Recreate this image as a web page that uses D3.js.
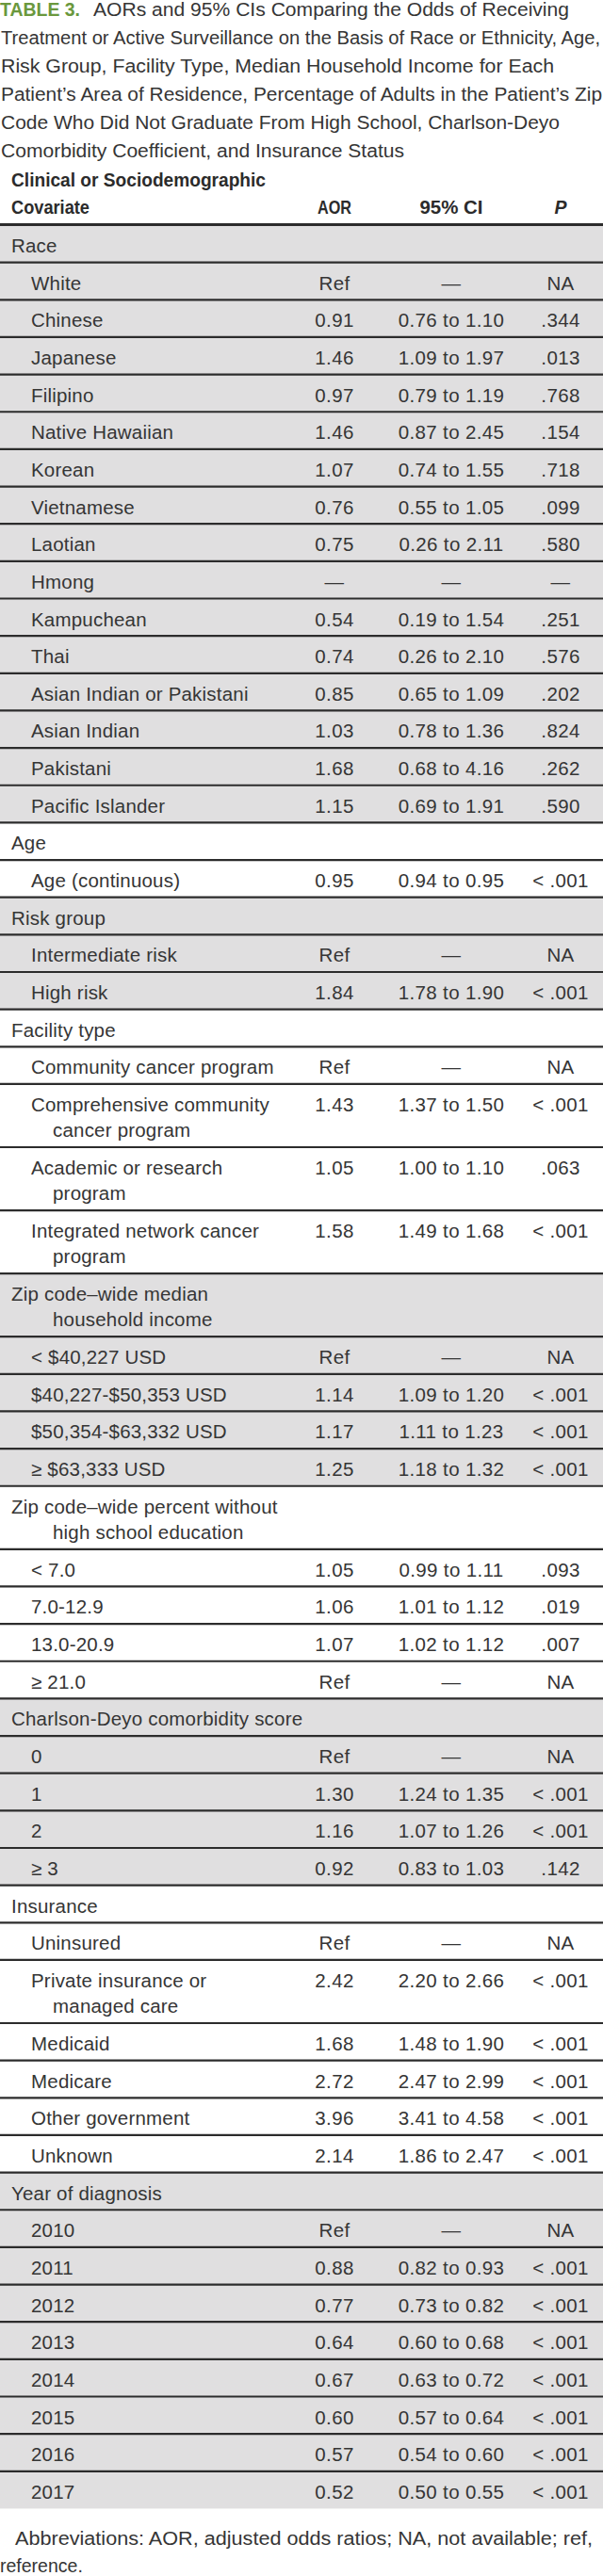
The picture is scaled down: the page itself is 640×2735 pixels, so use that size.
<!DOCTYPE html>
<html><head><meta charset="utf-8">
<script src="https://cdn.jsdelivr.net/npm/d3@7"></script>
<style>html,body{margin:0;padding:0;background:#fff;} svg{display:block;}</style>
</head><body><div id="chart"></div>
<script>
// ---------- DATA ----------
const titleLabel = "TABLE 3.";
const titleLines = [
  "AORs and 95% CIs Comparing the Odds of Receiving",
  "Treatment or Active Surveillance on the Basis of Race or Ethnicity, Age,",
  "Risk Group, Facility Type, Median Household Income for Each",
  "Patient\u2019s Area of Residence, Percentage of Adults in the Patient\u2019s Zip",
  "Code Who Did Not Graduate From High School, Charlson-Deyo",
  "Comorbidity Coefficient, and Insurance Status"
];
const headerCovariate = ["Clinical or Sociodemographic", "Covariate"];
const headerColumns = ["AOR", "95% CI", "P"];
const groupLabels = [
  "Race",
  "Age",
  "Risk group",
  "Facility type",
  "Zip code\u2013wide median\nhousehold income",
  "Zip code\u2013wide percent without\nhigh school education",
  "Charlson-Deyo comorbidity score",
  "Insurance",
  "Year of diagnosis"
];
const covariates = [
  "White","Chinese","Japanese","Filipino","Native Hawaiian","Korean","Vietnamese","Laotian","Hmong",
  "Kampuchean","Thai","Asian Indian or Pakistani","Asian Indian","Pakistani","Pacific Islander",
  "Age (continuous)",
  "Intermediate risk","High risk",
  "Community cancer program","Comprehensive community\ncancer program","Academic or research\nprogram","Integrated network cancer\nprogram",
  "< $40,227 USD","$40,227-$50,353 USD","$50,354-$63,332 USD","\u2265 $63,333 USD",
  "< 7.0","7.0-12.9","13.0-20.9","\u2265 21.0",
  "0","1","2","\u2265 3",
  "Uninsured","Private insurance or\nmanaged care","Medicaid","Medicare","Other government","Unknown",
  "2010","2011","2012","2013","2014","2015","2016","2017"
];
const covariateGroup = [
  0,0,0,0,0,0,0,0,0,0,0,0,0,0,0,
  1,
  2,2,
  3,3,3,3,
  4,4,4,4,
  5,5,5,5,
  6,6,6,6,
  7,7,7,7,7,7,
  8,8,8,8,8,8,8,8
];
const aorValues = [
  "Ref","0.91","1.46","0.97","1.46","1.07","0.76","0.75","\u2014","0.54","0.74","0.85","1.03","1.68","1.15",
  "0.95",
  "Ref","1.84",
  "Ref","1.43","1.05","1.58",
  "Ref","1.14","1.17","1.25",
  "1.05","1.06","1.07","Ref",
  "Ref","1.30","1.16","0.92",
  "Ref","2.42","1.68","2.72","3.96","2.14",
  "Ref","0.88","0.77","0.64","0.67","0.60","0.57","0.52"
];
const ciValues = [
  "\u2014","0.76 to 1.10","1.09 to 1.97","0.79 to 1.19","0.87 to 2.45","0.74 to 1.55","0.55 to 1.05","0.26 to 2.11","\u2014",
  "0.19 to 1.54","0.26 to 2.10","0.65 to 1.09","0.78 to 1.36","0.68 to 4.16","0.69 to 1.91",
  "0.94 to 0.95",
  "\u2014","1.78 to 1.90",
  "\u2014","1.37 to 1.50","1.00 to 1.10","1.49 to 1.68",
  "\u2014","1.09 to 1.20","1.11 to 1.23","1.18 to 1.32",
  "0.99 to 1.11","1.01 to 1.12","1.02 to 1.12","\u2014",
  "\u2014","1.24 to 1.35","1.07 to 1.26","0.83 to 1.03",
  "\u2014","2.20 to 2.66","1.48 to 1.90","2.47 to 2.99","3.41 to 4.58","1.86 to 2.47",
  "\u2014","0.82 to 0.93","0.73 to 0.82","0.60 to 0.68","0.63 to 0.72","0.57 to 0.64","0.54 to 0.60","0.50 to 0.55"
];
const pValues = [
  "NA",".344",".013",".768",".154",".718",".099",".580","\u2014",".251",".576",".202",".824",".262",".590",
  "< .001",
  "NA","< .001",
  "NA","< .001",".063","< .001",
  "NA","< .001","< .001","< .001",
  ".093",".019",".007","NA",
  "NA","< .001","< .001",".142",
  "NA","< .001","< .001","< .001","< .001","< .001",
  "NA","< .001","< .001","< .001","< .001","< .001","< .001","< .001"
];
const footnoteLines = [
  "Abbreviations: AOR, adjusted odds ratios; NA, not available; ref,",
  "reference."
];

// ---------- LAYOUT ----------
const W = 640, H = 2735;
const FONT = "'Liberation Sans', Arial, sans-serif";
const TEXT = "#353535";
const SHADE = "#e0dfe0";
const RULE = "#2c2c2c";
const tableTop = 239;
const rowH = 39.65, extraLineH = 27.4, baselineOff = 29;

// build rows
const rows = [];
groupLabels.forEach((g, gi) => {
  rows.push({kind: "group", label: g, shade: gi % 2 === 0});
  covariates.forEach((c, i) => {
    if (covariateGroup[i] === gi) rows.push({kind: "item", label: c, aor: aorValues[i], ci: ciValues[i], p: pValues[i], shade: gi % 2 === 0});
  });
});
rows.forEach(r => { r.lines = r.label.split("\n"); r.h = rowH + (r.lines.length - 1) * extraLineH; });
const offsets = [0, ...d3.cumsum(rows, r => r.h)];
rows.forEach((r, i) => { r.y0 = offsets[i]; });
const total = offsets[offsets.length - 1];

const y = d3.scaleLinear().domain([0, total]).range([tableTop, tableTop + total]);
const xCol = d3.scaleOrdinal().domain(headerColumns).range([355, 479, 595]);
const xLabel = {group: 12, item: 33, cont: 56};

const svg = d3.select("#chart").append("svg").attr("width", W).attr("height", H)
  .style("font-family", FONT);

svg.append("rect").attr("width", W).attr("height", H).attr("fill", "#fff");

// ---------- TITLE ----------
const title = svg.append("g");
title.append("text").attr("x", 0).attr("y", 17)
  .attr("font-size", 19.5).attr("font-weight", "bold").attr("fill", "#6a983d")
  .attr("textLength", 85).attr("lengthAdjust", "spacingAndGlyphs")
  .text(titleLabel);
const titleEnds = [604, 637, 588, 639, 594, 429];
titleLines.forEach((t, i) => {
  const x0 = i === 0 ? 99 : 1;
  title.append("text").attr("x", x0).attr("y", 17 + i * 30)
    .attr("font-size", 19.5).attr("fill", TEXT)
    .attr("textLength", titleEnds[i] - x0).attr("lengthAdjust", "spacingAndGlyphs")
    .text(t);
});

// ---------- HEADER ----------
const hdr = svg.append("g").attr("font-weight", "bold").attr("fill", "#2b2b2b").attr("font-size", 19.5);
headerCovariate.forEach((t, i) => {
  hdr.append("text").attr("x", 12).attr("y", 198 + i * 29)
    .attr("textLength", i === 0 ? 270 : 83).attr("lengthAdjust", "spacingAndGlyphs").text(t);
});
headerColumns.forEach(c => {
  hdr.append("text").attr("x", xCol(c)).attr("y", 227).attr("text-anchor", "middle")
    .attr("font-style", c === "P" ? "italic" : null)
    .attr("textLength", c === "AOR" ? 36 : (c === "95% CI" ? 67 : null))
    .attr("lengthAdjust", "spacingAndGlyphs")
    .text(c);
});

// ---------- ROWS ----------
const rowG = svg.append("g").selectAll("g").data(rows).join("g")
  .attr("transform", d => `translate(0,${y(d.y0)})`);

rowG.append("rect").attr("x", 0).attr("y", 0).attr("width", W).attr("height", d => d.h)
  .attr("fill", d => d.shade ? SHADE : "#fff");

rowG.each(function(d) {
  const g = d3.select(this);
  d.lines.forEach((ln, li) => {
    const x = li === 0 ? (d.kind === "group" ? xLabel.group : xLabel.item) : xLabel.cont;
    g.append("text").attr("x", x).attr("y", baselineOff + li * extraLineH)
      .attr("font-size", 20.5).attr("letter-spacing", 0.2).attr("fill", TEXT).text(ln);
  });
  if (d.kind === "item") {
    [["AOR", d.aor], ["95% CI", d.ci], ["P", d.p]].forEach(([c, v]) => {
      g.append("text").attr("x", xCol(c)).attr("y", baselineOff).attr("text-anchor", "middle")
        .attr("font-size", 20.5).attr("letter-spacing", 0.35).attr("fill", TEXT).text(v);
    });
  }
});

// ---------- RULES ----------
const rules = svg.append("g");
rules.selectAll("line.sep").data(rows.slice(1)).join("line").attr("class", "sep")
  .attr("x1", 0).attr("x2", W)
  .attr("y1", d => y(d.y0)).attr("y2", d => y(d.y0))
  .attr("stroke", RULE).attr("stroke-width", 2.2);
rules.append("line").attr("x1", 0).attr("x2", W).attr("y1", tableTop - 0.5).attr("y2", tableTop - 0.5)
  .attr("stroke", RULE).attr("stroke-width", 3);

// ---------- FOOTNOTE ----------
const fnY = tableTop + total;
footnoteLines.forEach((t, i) => {
  svg.append("text").attr("x", i === 0 ? 16 : 0).attr("y", fnY + 39 + i * 29)
    .attr("font-size", 19.5).attr("fill", TEXT)
    .attr("textLength", i === 0 ? 613 : null).attr("lengthAdjust", "spacingAndGlyphs")
    .text(t);
});
</script>
</body></html>
